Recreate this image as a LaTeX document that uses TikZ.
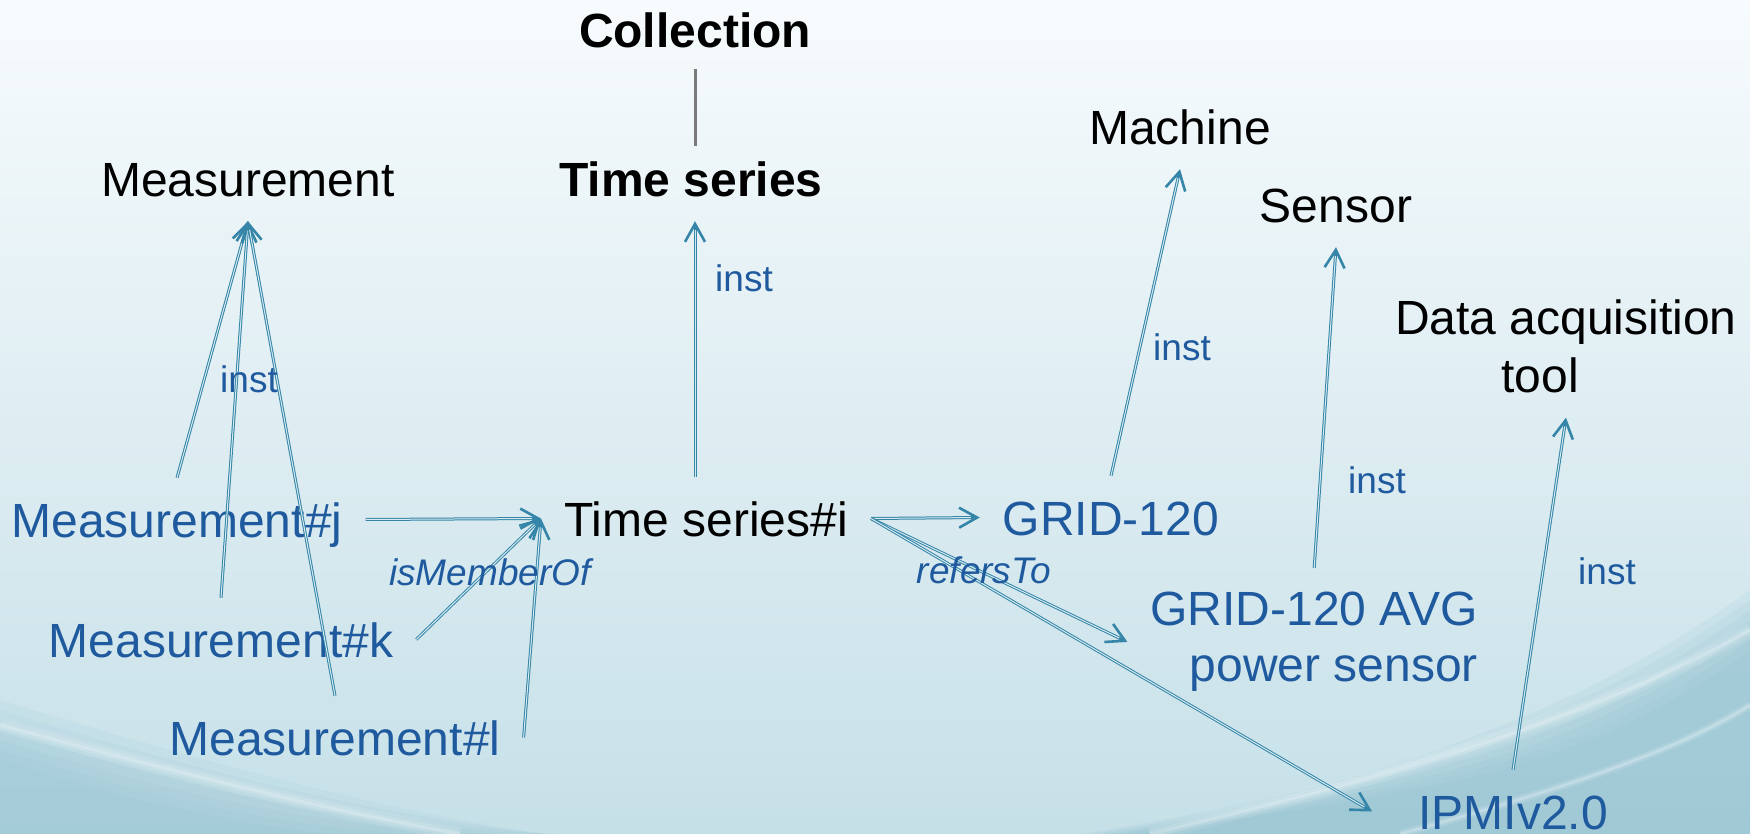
\documentclass[tikz,border=0pt]{standalone}
\usepackage{fontspec}
\setmainfont{Liberation Sans}
\usetikzlibrary{arrows.meta}

\definecolor{edgeteal}{HTML}{3585A8}
\definecolor{edgeinner}{HTML}{D6EAF1}
\definecolor{instblue}{HTML}{1F5A9E}
\definecolor{rulegray}{HTML}{7A7A7A}
\definecolor{bgtop}{HTML}{F7FBFD}
\definecolor{bgmid}{HTML}{EDF5F8}
\definecolor{bgbottom}{HTML}{C6E0E8}
\definecolor{wave}{HTML}{86BBCB}

\begin{document}
\begin{tikzpicture}[x=1pt, y=-1pt,
  bigtext/.style={font=\fontsize{48}{58}\selectfont, inner xsep=23pt, inner ysep=24pt,
                  text height=35pt, text depth=0pt, anchor=base},
  classnode/.style={bigtext, text=black},
  instnode/.style={bigtext, text=instblue},
  twoline/.style={text height={}, text depth={}},
  edgelabel/.style={font=\fontsize{37}{44}\selectfont, text=instblue, anchor=base, inner sep=0pt},
  conn/.style={draw=edgeteal, line width=3pt,
               -{Straight Barb[length=18pt, width=20pt, line width=2.6pt]},
               postaction={draw=edgeinner, line width=1pt, arrows=-, shorten >=9pt}},
  subclass/.style={draw=rulegray, line width=3pt}
]
\useasboundingbox (0,0) rectangle (1750,834);

% background: soft vertical gradient with blurred waves at the bottom corners
\shade[top color=bgtop, middle color=bgmid, bottom color=bgbottom] (0,0) rectangle (1750,834);
\foreach \d in {0,10,...,60} {
  \fill[wave, opacity=.09] (0,700+\d) .. controls (150,745+\d) and (330,800+\d) .. (540+\d,834) -- (0,834) -- cycle;
  \fill[wave, opacity=.11] (1080+\d,834) .. controls (1360+\d,790) and (1570,720+\d) .. (1750,590+\d) -- (1750,834) -- cycle;
}
\foreach \w/\o in {14/.10, 8/.14, 3/.2} {
  \draw[white, opacity=\o, line width=\w pt] (0,725) .. controls (150,765) and (300,805) .. (460,834);
  \draw[white, opacity=\o, line width=\w pt] (1150,834) .. controls (1400,775) and (1600,715) .. (1750,630);
  \draw[white, opacity=\o, line width=.6*\w pt] (1400,834) .. controls (1560,790) and (1680,750) .. (1750,705);
}

% classes
\node[classnode, font=\fontsize{48}{58}\selectfont\bfseries] (coll) at (695,48) {Collection};
\node[classnode, font=\fontsize{48}{58}\selectfont\bfseries] (tser) at (691,197) {Time series};
\node[classnode] (meas) at (248,197) {Measurement};
\node[classnode] (mach) at (1180,145) {Machine};
\node[classnode] (sens) at (1336,223) {Sensor};
\node[classnode, twoline, align=center, anchor=north] (daq) at (1566,276)
  {Data acquisition\\tool\hspace*{52pt}};

% instances
\node[instnode] (mj) at (177,537) {Measurement\#j};
\node[instnode] (mk) at (221,657) {Measurement\#k};
\node[instnode] (ml) at (335,755) {Measurement\#l};
\node[classnode] (tsi) at (706,536) {Time series\#i};
\node[instnode] (grid) at (1111,535) {GRID-120};
\node[instnode, twoline, align=right, anchor=north east,
      font=\fontsize{48}{56}\selectfont] (gavg) at (1501,568) {GRID-120 AVG\\power sensor};
\node[instnode] (ipmi) at (1513,829) {IPMIv2.0};

% Collection -- Time series
\draw[subclass, shorten <=-3pt, shorten >=-8pt] (coll.south) -- (coll.south |- tser.north);

% instance-of links
\draw[conn] (mj.north) -- (meas.south);
\draw[conn] (mk.north) -- (meas.south);
\draw[conn] (ml.north) -- (meas.south);
\draw[conn] (tsi.north -| coll.south) -- (tser.south -| coll.south);
\draw[conn] (grid.north) -- (mach.south);
\draw[conn] (gavg.north) -- (sens.south);
\draw[conn] (ipmi.north) -- (daq.south);

% isMemberOf
\draw[conn] (mj.east) -- (tsi.west);
\draw[conn] (mk.east) -- (tsi.west);
\draw[conn] (ml.east) -- (tsi.west);

% refersTo
\draw[conn] (tsi.east) -- (grid.west);
\draw[conn] (tsi.east) -- (gavg.west);
\draw[conn] (tsi.east) -- ([xshift=-23pt]ipmi.west);

% labels
\node[edgelabel] (lmeas) at (249,392) {inst};
\node[edgelabel] (ltser) at (744,291) {inst};
\node[edgelabel] (lmach) at (1182,360) {inst};
\node[edgelabel] (lsens) at (1377,493) {inst};
\node[edgelabel] (ldaq) at (1607,584) {inst};
\node[edgelabel, font=\fontsize{37}{44}\selectfont\itshape] (lmember) at (490,585) {isMemberOf};
\node[edgelabel, font=\fontsize{37}{44}\selectfont\itshape] (lrefers) at (984,583) {refersTo};
\end{tikzpicture}
\end{document}
